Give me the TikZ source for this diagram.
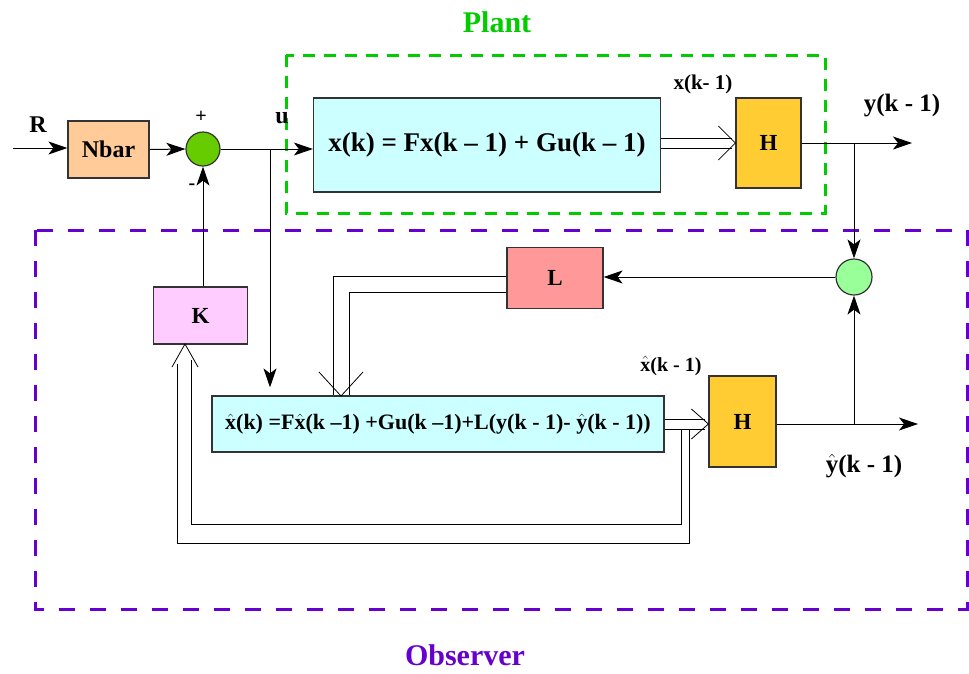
\documentclass[tikz,border=0pt]{standalone}
\usepackage{fontspec}
\setmainfont{Liberation Serif}
\usetikzlibrary{arrows.meta,calc}
\definecolor{nbarc}{HTML}{FFCC99}
\definecolor{sumg}{HTML}{66CC00}
\definecolor{sumlg}{HTML}{99FF99}
\definecolor{eqc}{HTML}{CCFFFF}
\definecolor{hc}{HTML}{FFCC33}
\definecolor{lc}{HTML}{FF9999}
\definecolor{kc}{HTML}{FFCCFF}
\definecolor{plantc}{HTML}{00CC00}
\definecolor{obsc}{HTML}{6600CC}
\newcommand{\hatx}{$\hat{\mbox{x}}$}
\newcommand{\haty}{$\hat{\mbox{y}}$}
% open chevron heads for the double lines (tip, length, half width)
\newcommand{\chevh}[3]{%
  \draw[line width=0.8pt] ($(#1)+(#2,-#3)$) -- (#1) -- ($(#1)+(#2,#3)$);
}
\newcommand{\chevv}[3]{%
  \draw[line width=0.8pt] ($(#1)+(-#3,#2)$) -- (#1) -- ($(#1)+(#3,#2)$);
}

\begin{document}
\begin{tikzpicture}[x=1pt, y=-1pt, line join=miter, >={Stealth[length=19pt,width=13pt,inset=5pt]}]
\tikzset{blk/.style={draw=black!80, line width=1.2pt, inner sep=0pt, font=\bfseries\fontsize{23}{26}\selectfont},
  sumn/.style={circle, draw=black!80, line width=1.2pt, minimum size=34pt, inner sep=0pt},
  sig/.style={->, line width=1pt},
  wire/.style={line width=1pt},
  lbl/.style={inner sep=0pt, font=\bfseries\fontsize{24}{26}\selectfont}}

\useasboundingbox (0,0) rectangle (969,673);

% plant and observer frames
\draw[plantc, line width=3pt, dash pattern=on 12pt off 9pt] (286,55) rectangle (825,213);
\draw[obsc, line width=3pt, dash pattern=on 16pt off 15pt] (35,230) rectangle (967,609);
\node[lbl, plantc, font=\bfseries\fontsize{30}{32}\selectfont] (plantlab) at (497,22) {Plant};
\node[lbl, obsc, font=\bfseries\fontsize{30}{32}\selectfont] (obslab) at (465,655) {Observer};

% blocks
\node[blk, fill=nbarc, minimum width=81pt, minimum height=57pt, font=\bfseries\fontsize{24}{26}\selectfont] (nbar) at (108.5,149.5) {Nbar};
\node[sumn, fill=sumg] (sum1) at (203,149) {};
\node[blk, fill=eqc, minimum width=347pt, minimum height=94pt, font=\bfseries\fontsize{27}{30}\selectfont] (plant) at (487,145) {x(k) = Fx(k -- 1) + Gu(k -- 1)};
\node[blk, fill=hc, minimum width=65pt, minimum height=90pt] (h1) at (768.5,143) {H};
\node[sumn, fill=sumlg, minimum size=36pt] (sum2) at (854,277) {};
\node[blk, fill=lc, minimum width=96pt, minimum height=61pt] (l) at (555,278) {L};
\node[blk, fill=kc, minimum width=94pt, minimum height=57pt] (k) at (200.5,315.5) {K};
\node[blk, fill=eqc, minimum width=452pt, minimum height=56pt, font=\bfseries\fontsize{22}{24}\selectfont] (obs) at (438,424) {\hatx(k) =F\hatx(k --1) +Gu(k --1)+L(y(k - 1)- \haty(k - 1))};
\node[blk, fill=hc, minimum width=67pt, minimum height=91pt] (h2) at (742.5,421.5) {H};

% points
\coordinate (rin) at (13,148);
\coordinate (ubr) at (270,149);
\coordinate (yout) at (912,143);
\coordinate (ybr) at (854,143);
\coordinate (yhout) at (918,424);
\coordinate (yhbr) at (854,424);
\coordinate (ltip) at (341,396);
\coordinate (ktip) at (185,344);

% signals
\draw[sig] (rin) -- (rin -| nbar.west);
\draw[sig] (nbar.east) -- (sum1.west);
\draw[sig] (sum1.east) -- (sum1 -| plant.west);
\draw[sig, shorten >=8pt] (ubr) -- (ubr |- obs.north);
\draw[sig] (k.north -| sum1) -- (sum1.south);
\draw[sig] (h1.east) -- (yout);
\draw[sig] (ybr) -- (sum2.north);
\draw[sig] (sum2.west) -- (sum2 -| l.east);
\draw[sig] (h2.east |- yhout) -- (yhout);
\draw[sig] (yhbr) -- (sum2.south);

% state x(k-1) to H
\draw[wire] ($(h1.west -| plant.east)+(0,-5)$) -- ($(h1.west)+(-3,-5)$);
\draw[wire] ($(h1.west -| plant.east)+(0,5)$) -- ($(h1.west)+(-3,5)$);
\chevh{h1.west}{-17}{17}

% L correction into observer
\draw[wire] ($(l.west)+(0,-2)$) -| (obs.north -| 333,0);
\draw[wire] ($(l.west)+(0,14)$) -| (obs.north -| 349,0);
\chevv{ltip}{-24}{22}

% xhat(k-1) to H and back to K
\draw[wire] ($(obs.east)+(0,-5)$) -- ($(obs.east -| h2.west)+(-3,-5)$);
\draw[wire] ($(obs.east)+(0,5)$) -- ($(obs.east -| h2.west)+(-3,5)$);
\chevh{obs.east -| h2.west}{-17}{15}
\draw[wire] (681,429) |- (191,524) -- ($(ktip)+(6,16)$);
\draw[wire] (689,429) |- (177,543) -- ($(ktip)+(-8,20)$);
\chevv{ktip}{23}{13}

% labels
\node[lbl] (rlab) at (38,125) {R};
\node[lbl, font=\bfseries\fontsize{20}{22}\selectfont] (plus) at (201,117) {+};
\node[lbl, font=\bfseries\fontsize{20}{22}\selectfont] (minus) at (192,187) {-};
\node[lbl] (ulab) at (282,118) {u};
\node[lbl, font=\bfseries\fontsize{21}{24}\selectfont] (xlab) at (703,84) {x(k- 1)};
\node[lbl, font=\bfseries\fontsize{25}{28}\selectfont] (ylab) at (902,106) {y(k - 1)};
\node[lbl, font=\bfseries\fontsize{20}{24}\selectfont] (xhlab) at (671,366) {\hatx(k - 1)};
\node[lbl, font=\bfseries\fontsize{25}{28}\selectfont] (yhlab) at (864,466) {\haty(k - 1)};
\end{tikzpicture}
\end{document}
